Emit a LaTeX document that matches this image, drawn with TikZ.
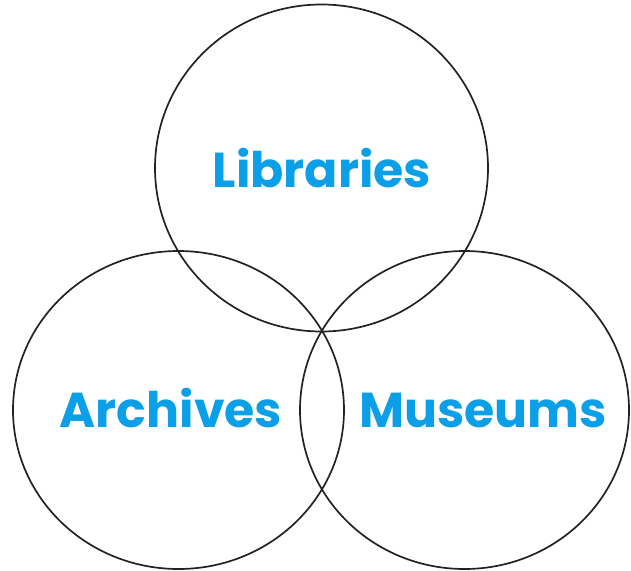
\documentclass[tikz,border=0pt]{standalone}
\usepackage{fontspec}
\setmainfont{Poppins}
\definecolor{labblue}{HTML}{0A9FE6}
\definecolor{ringgray}{HTML}{222222}
\begin{document}
\begin{tikzpicture}[x=1pt,y=-1pt,
  ring/.style={draw=ringgray,line width=1.7pt},
  lab/.style={text=labblue,font=\fontsize{49}{55}\selectfont\bfseries,inner sep=0pt,anchor=base}]
\useasboundingbox (0,0) rectangle (631,570);
\draw[ring] (321.5,168) ellipse [x radius=166.5,y radius=163.5];
\draw[ring] (178.5,410) ellipse [x radius=165.5,y radius=159];
\draw[ring] (464.5,410) ellipse [x radius=164.5,y radius=159];
\node[lab] (lib) at (322,187) {Libraries};
\node[lab] (arc) at (171,427) {Archives};
\node[lab] (mus) at (483,427) {Museums};
\end{tikzpicture}
\end{document}
